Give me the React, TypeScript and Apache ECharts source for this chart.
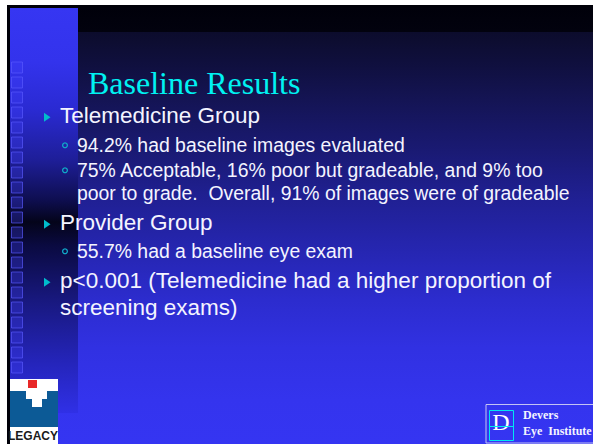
import React, { useEffect, useRef } from "react";
import * as echarts from "echarts";

// ---- content ----
const titleText = "Baseline Results";
const lineTexts = [
  "Telemedicine Group",
  "94.2% had baseline images evaluated",
  "75% Acceptable, 16% poor but gradeable, and 9% too",
  "poor to grade.  Overall, 91% of images were of gradeable",
  "Provider Group",
  "55.7% had a baseline eye exam",
  "p<0.001 (Telemedicine had a higher proportion of",
  "screening exams)",
];
const lineLevels = [1, 2, 2, 2, 1, 2, 1, 1];
const lineHasMarker = [true, true, true, false, true, true, true, false];
const deversTexts = ["Devers", "Eye  Institute"];
const deversLetter = "D";
const legacyText = "LEGACY";

// ---- layout ----
const W = 593;
const H = 444;
const lineBaselines = [123, 152, 177, 200, 230, 258, 288, 315];
const SANS = "'Liberation Sans', Arial, sans-serif";
const SERIF = "'Liberation Serif', 'Times New Roman', serif";
const FS1 = 22.5;
const FS2 = 19.4;

function buildGraphic() {
  const els: any[] = [];
  // black frame
  els.push({ type: "rect", shape: { x: 7, y: 5, width: W - 7, height: H - 5 }, style: { fill: "#000008" } });
  // main background
  els.push({
    type: "rect",
    shape: { x: 10, y: 8, width: W - 10, height: H - 8 },
    style: {
      fill: new echarts.graphic.LinearGradient(0, 0, 0, 1, [
        { offset: 0, color: "#00000a" },
        { offset: 0.054, color: "#02020e" },
        { offset: 0.056, color: "#0c0c2c" },
        { offset: 0.12, color: "#0f0f3c" },
        { offset: 0.21, color: "#141454" },
        { offset: 0.33, color: "#1a1a74" },
        { offset: 0.44, color: "#202094" },
        { offset: 0.56, color: "#2626b2" },
        { offset: 0.67, color: "#2c2cce" },
        { offset: 0.78, color: "#3131e2" },
        { offset: 0.9, color: "#3434ee" },
        { offset: 1, color: "#3535f2" },
      ]),
    },
  });
  // left column
  const colTop = 8;
  const colH = 405;
  const stop = (y: number) => (y - colTop) / colH;
  els.push({
    type: "rect",
    shape: { x: 10, y: colTop, width: 68, height: colH },
    style: {
      fill: new echarts.graphic.LinearGradient(0, 0, 0, 1, [
        { offset: 0, color: "#3636f2" },
        { offset: stop(62), color: "#3333ec" },
        { offset: stop(110), color: "#2a2ad2" },
        { offset: stop(160), color: "#1e1e98" },
        { offset: stop(200), color: "#0e0e50" },
        { offset: stop(222), color: "#04041a" },
        { offset: stop(245), color: "#0a0a40" },
        { offset: stop(300), color: "#18187e" },
        { offset: stop(360), color: "#2424b8" },
        { offset: 1, color: "#3030e6" },
      ]),
    },
  });
  // little squares
  for (let i = 0; i < 21; i++) {
    els.push({
      type: "rect",
      shape: { x: 11.5, y: 62 + i * 15, width: 11, height: 11 },
      style: { fill: "rgba(70,70,255,0.28)", stroke: "rgba(90,90,255,0.65)", lineWidth: 1 },
    });
  }
  // title
  els.push({
    type: "text",
    x: 88,
    y: 93.5 - 0.3375 * 32,
    style: { text: titleText, fill: "#00f2f2", fontSize: 32, fontFamily: SERIF, align: "left", verticalAlign: "middle" },
  });
  // lines
  lineTexts.forEach((t, i) => {
    const lvl = lineLevels[i];
    const fs = lvl === 1 ? FS1 : FS2;
    const ym = lineBaselines[i] - 0.3465 * fs;
    const x = lvl === 1 ? 60 : 77;
    els.push({
      type: "text",
      x,
      y: ym,
      style: { text: t, fill: "#f4f4ff", fontSize: fs, fontFamily: SANS, align: "left", verticalAlign: "middle" },
    });
    if (lineHasMarker[i]) {
      if (lvl === 1) {
        const c = ym + 2;
        els.push({
          type: "polygon",
          shape: { points: [[44, c - 4.5], [50.5, c], [44, c + 4.5]] },
          style: { fill: "#00bccc" },
        });
      } else {
        els.push({
          type: "circle",
          shape: { cx: 65, cy: ym, r: 2.4 },
          style: { fill: "none", stroke: "#10a8c8", lineWidth: 1.3 },
        });
      }
    }
  });
  // Legacy logo
  els.push({ type: "rect", shape: { x: 10, y: 379, width: 48, height: 65 }, style: { fill: "#ffffff" } });
  els.push({
    type: "polygon",
    shape: {
      points: [
        [10, 391], [26, 391], [26, 399], [32, 399], [32, 407], [42, 407], [42, 399], [47, 399], [47, 391],
        [58, 391], [58, 427], [10, 427],
      ],
    },
    style: { fill: "#0c5a96" },
  });
  els.push({ type: "rect", shape: { x: 28, y: 380, width: 9, height: 8 }, style: { fill: "#e82828" } });
  els.push({
    type: "text",
    x: 33,
    y: 435.5,
    style: { text: legacyText, fill: "#1a1a1a", fontSize: 12, fontWeight: "bold", fontFamily: SANS, align: "center", verticalAlign: "middle" },
  });
  // Devers logo
  els.push({
    type: "rect",
    shape: { x: 486, y: 404.5, width: 120, height: 38.5 },
    style: { fill: "none", stroke: "#c4c4f4", lineWidth: 1 },
  });
  els.push({
    type: "rect",
    shape: { x: 489.5, y: 410.5, width: 24, height: 30 },
    style: { fill: "none", stroke: "#00e8f0", lineWidth: 1 },
  });
  els.push({
    type: "text",
    x: 501,
    y: 422,
    style: { text: deversLetter, fill: "#ffffff", fontSize: 24, fontFamily: SERIF, align: "center", verticalAlign: "middle" },
  });
  els.push({
    type: "line",
    shape: { x1: 489.5, y1: 426.5, x2: 513.5, y2: 426.5 },
    style: { stroke: "#00e8f0", lineWidth: 1 },
  });
  els.push({
    type: "text",
    x: 523,
    y: 419.3 - 0.3375 * 12,
    style: { text: deversTexts[0], fill: "#f4f4ff", fontSize: 12, fontWeight: "bold", fontFamily: SERIF, align: "left", verticalAlign: "middle" },
  });
  els.push({
    type: "text",
    x: 523,
    y: 435 - 0.3375 * 12,
    style: { text: deversTexts[1], fill: "#f4f4ff", fontSize: 12, fontWeight: "bold", fontFamily: SERIF, align: "left", verticalAlign: "middle" },
  });
  return els;
}

export default function App() {
  const ref = useRef<HTMLDivElement>(null);
  useEffect(() => {
    if (!ref.current) return;
    const chart = echarts.init(ref.current, undefined, { renderer: "svg", width: W, height: H });
    chart.setOption({
      animation: false,
      backgroundColor: "transparent",
      graphic: { elements: buildGraphic() },
    });
    return () => chart.dispose();
  }, []);
  return (
    <div
      ref={ref}
      style={{ position: "absolute", left: 0, top: 0, width: W, height: H, background: "#ffffff" }}
    />
  );
}
